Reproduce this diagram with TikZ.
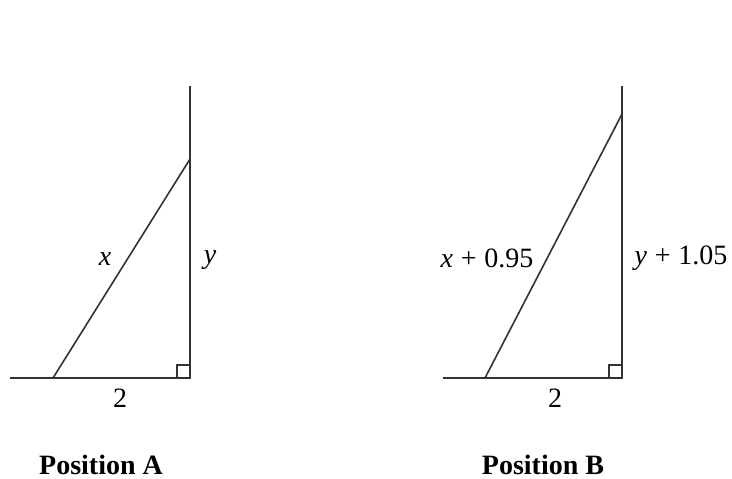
\documentclass[tikz,border=0pt]{standalone}
\usepackage{fontspec}
\setmainfont{Liberation Serif}
\usepackage{tikz}

\begin{document}
\begin{tikzpicture}[x=0.5pt, y=-0.5pt, line width=0.8pt,
  every path/.style={draw=black!80},
  lbl/.style={font=\fontsize{14}{16}\selectfont, inner sep=1pt},
  title/.style={font=\fontsize{14}{16}\selectfont\bfseries}]
  \useasboundingbox[draw=none] (0,0) rectangle (732,478);
  % Position A
  \coordinate (a0) at (10,378);
  \coordinate (ar) at (190,378);
  \coordinate (at) at (190,86);
  \coordinate (af) at (53,378);
  \coordinate (ah) at (190,159);
  \draw (a0)--(ar)--(at);
  \draw (af)--(ah);
  \draw (ar) ++(-13,0) |- ++(13,-13);
  \node[lbl] (ax) at (105,259) {\textit{x}};
  \node[lbl] (ay) at (210,260) {\textit{y}};
  \node[lbl] (a2) at (120,398) {2};
  \node[title] (ta) at (101,465) {Position A};
  % Position B
  \coordinate (b0) at (443,378);
  \coordinate (br) at (622,378);
  \coordinate (bt) at (622,86);
  \coordinate (bf) at (485,378);
  \coordinate (bh) at (622,114);
  \draw (b0)--(br)--(bt);
  \draw (bf)--(bh);
  \draw (br) ++(-13,0) |- ++(13,-13);
  \node[lbl] (bx) at (487,258) {\textit{x}\;+\;0.95};
  \node[lbl] (by) at (681,258) {\textit{y}\;+\;1.05};
  \node[lbl] (b2) at (555,398) {2};
  \node[title] (tb) at (543,465) {Position B};
\end{tikzpicture}
\end{document}
